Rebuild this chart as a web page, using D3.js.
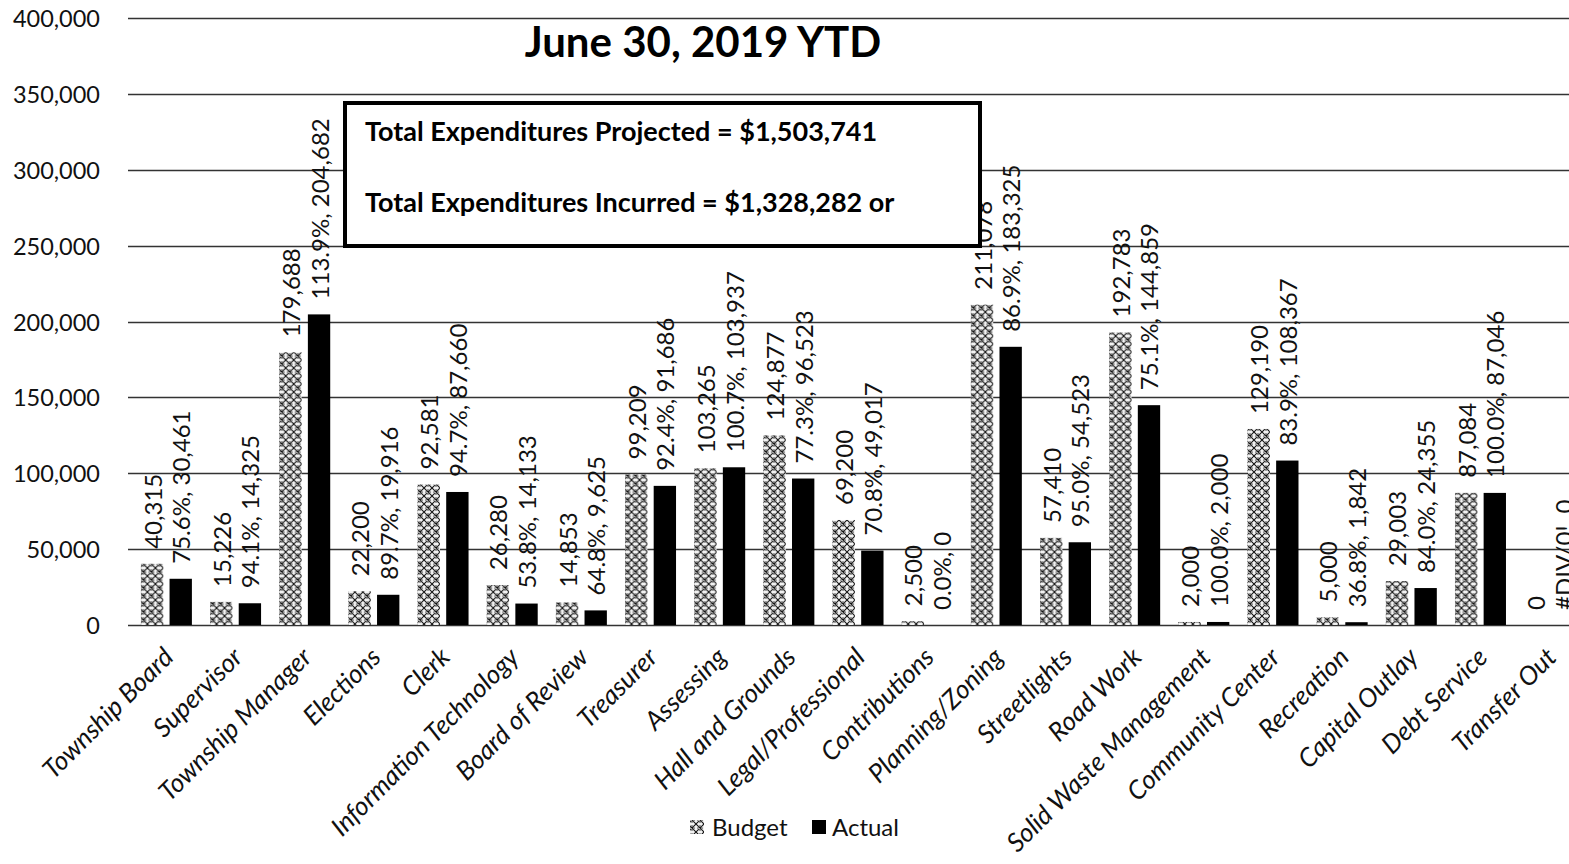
<!DOCTYPE html>
<html>
<head>
<meta charset="utf-8">
<script src="https://cdn.jsdelivr.net/npm/d3@7"></script>
<style>
  html, body { margin: 0; padding: 0; background: #fff; }
  svg { display: block; font-family: Lato, "Open Sans", sans-serif; }
</style>
</head>
<body>
<svg id="chart" width="1569" height="864"></svg>
<script>
// Departments, budget and year-to-date actual spending
const categories = [
  "Township Board", "Supervisor", "Township Manager", "Elections", "Clerk",
  "Information Technology", "Board of Review", "Treasurer", "Assessing",
  "Hall and Grounds", "Legal/Professional", "Contributions", "Planning/Zoning",
  "Streetlights", "Road Work", "Solid Waste Management", "Community Center",
  "Recreation", "Capital Outlay", "Debt Service", "Transfer Out"
];
const budget = [
  40315, 15226, 179688, 22200, 92581, 26280, 14853, 99209, 103265, 124877,
  69200, 2500, 211078, 57410, 192783, 2000, 129190, 5000, 29003, 87084, 0
];
const actual = [
  30461, 14325, 204682, 19916, 87660, 14133, 9625, 91686, 103937, 96523,
  49017, 0, 183325, 54523, 144859, 2000, 108367, 1842, 24355, 87046, 0
];
const yTicks = [0, 50000, 100000, 150000, 200000, 250000, 300000, 350000, 400000];
const seriesNames = ["Budget", "Actual"];
const titleText = "June 30, 2019 YTD";
const noteLines = [
  "Total Expenditures Projected = $1,503,741",
  "Total Expenditures Incurred = $1,328,282 or"
];

const svg = d3.select("#chart");
const W = 1569, H = 864;

// Budget bars use a dotted cross-hatch fill
const defs = svg.append("defs");
const pat = defs.append("pattern")
  .attr("id", "budgetHatch")
  .attr("patternUnits", "userSpaceOnUse")
  .attr("width", 8).attr("height", 8);
pat.append("rect").attr("width", 8).attr("height", 8).attr("fill", "#f2f2f2");
pat.append("path")
  .attr("d", "M0,0L8,8M8,0L0,8M-1,7L1,9M7,-1L9,1M-1,1L1,-1M7,9L9,7")
  .attr("stroke", "#111").attr("stroke-width", 1.1);
[[4, 1.5], [4, 6.5], [1.5, 4], [6.5, 4], [3, 2.6], [5, 2.6], [3, 5.4], [5, 5.4],
 [2.6, 3], [2.6, 5], [5.4, 3], [5.4, 5]].forEach(([cx, cy]) => {
  pat.append("circle").attr("cx", cx).attr("cy", cy).attr("r", 0.55).attr("fill", "#333");
});

const y = d3.scaleLinear().domain([0, 400000]).range([625, 18]);
const x0 = d3.scaleBand().domain(categories).range([131.4, 1583.8]);
const x1 = d3.scaleBand().domain(seriesNames).range([9.5, 60.5]).paddingInner(0.22);

const fmt = d3.format(",");
const pctFmt = d3.format(".1%");

// Horizontal gridlines and value axis labels
const grid = svg.append("g");
grid.selectAll("line").data(yTicks).join("line")
  .attr("x1", 128).attr("x2", W)
  .attr("y1", d => Math.round(y(d)) + 0.5).attr("y2", d => Math.round(y(d)) + 0.5)
  .attr("stroke", "#333").attr("stroke-width", 1.3);

svg.append("g").selectAll("text").data(yTicks).join("text")
  .attr("x", 100).attr("y", d => y(d))
  .attr("text-anchor", "end").attr("dominant-baseline", "central")
  .attr("font-size", 23.5).attr("fill", "#111")
  .text(d => fmt(d));

// Grouped bars
const rows = categories.map((c, i) => ({ cat: c, budget: budget[i], actual: actual[i] }));
const groups = svg.append("g").selectAll("g").data(rows).join("g")
  .attr("transform", d => `translate(${x0(d.cat)},0)`);

groups.append("rect")
  .attr("x", x1("Budget")).attr("width", x1.bandwidth())
  .attr("y", d => y(d.budget)).attr("height", d => y(0) - y(d.budget))
  .attr("fill", "url(#budgetHatch)");

groups.append("rect")
  .attr("x", x1("Actual")).attr("width", x1.bandwidth())
  .attr("y", d => y(d.actual)).attr("height", d => y(0) - y(d.actual))
  .attr("fill", "#000");

// Rotated value labels above each bar
const labelGap = 15;
groups.append("text")
  .attr("transform", d => `translate(${x1("Budget") + x1.bandwidth() / 2},${y(d.budget) - labelGap}) rotate(-90)`)
  .attr("dominant-baseline", "central")
  .attr("font-size", 24).attr("fill", "#111")
  .text(d => fmt(d.budget));

groups.append("text")
  .attr("transform", d => `translate(${x1("Actual") + x1.bandwidth() / 2},${y(d.actual) - labelGap}) rotate(-90)`)
  .attr("dominant-baseline", "central")
  .attr("font-size", 24).attr("fill", "#111")
  .text(d => (d.budget === 0 ? "#DIV/0!" : pctFmt(d.actual / d.budget)) + ", " + fmt(d.actual));

// Category axis labels, slanted
svg.append("g").selectAll("text").data(categories).join("text")
  .attr("transform", d => `translate(${x0(d) + x0.bandwidth() / 2 - 4},${646}) rotate(-45)`)
  .attr("text-anchor", "end").attr("dy", "0.7em")
  .attr("font-size", 26).attr("font-style", "italic").attr("fill", "#111")
  .text(d => d);

// Summary note box
svg.append("rect")
  .attr("x", 345).attr("y", 103).attr("width", 635).attr("height", 143)
  .attr("fill", "#fff").attr("stroke", "#000").attr("stroke-width", 4);
svg.append("g").selectAll("text").data(noteLines).join("text")
  .attr("x", 365).attr("y", (d, i) => 141 + i * 71)
  .attr("font-size", 27).attr("font-weight", "bold").attr("fill", "#000")
  .text(d => d);

// Title
svg.append("text")
  .attr("x", 703).attr("y", 57).attr("text-anchor", "middle")
  .attr("font-size", 42).attr("font-weight", "bold").attr("fill", "#000")
  .text(titleText);

// Legend
const legend = svg.append("g");
legend.append("rect").attr("x", 690).attr("y", 820).attr("width", 14).attr("height", 14)
  .attr("fill", "url(#budgetHatch)");
legend.append("text").attr("x", 712).attr("y", 836).attr("font-size", 24).attr("fill", "#111").text("Budget");
legend.append("rect").attr("x", 812).attr("y", 820).attr("width", 14).attr("height", 14).attr("fill", "#000");
legend.append("text").attr("x", 832).attr("y", 836).attr("font-size", 24).attr("fill", "#111").text("Actual");
</script>
</body>
</html>
